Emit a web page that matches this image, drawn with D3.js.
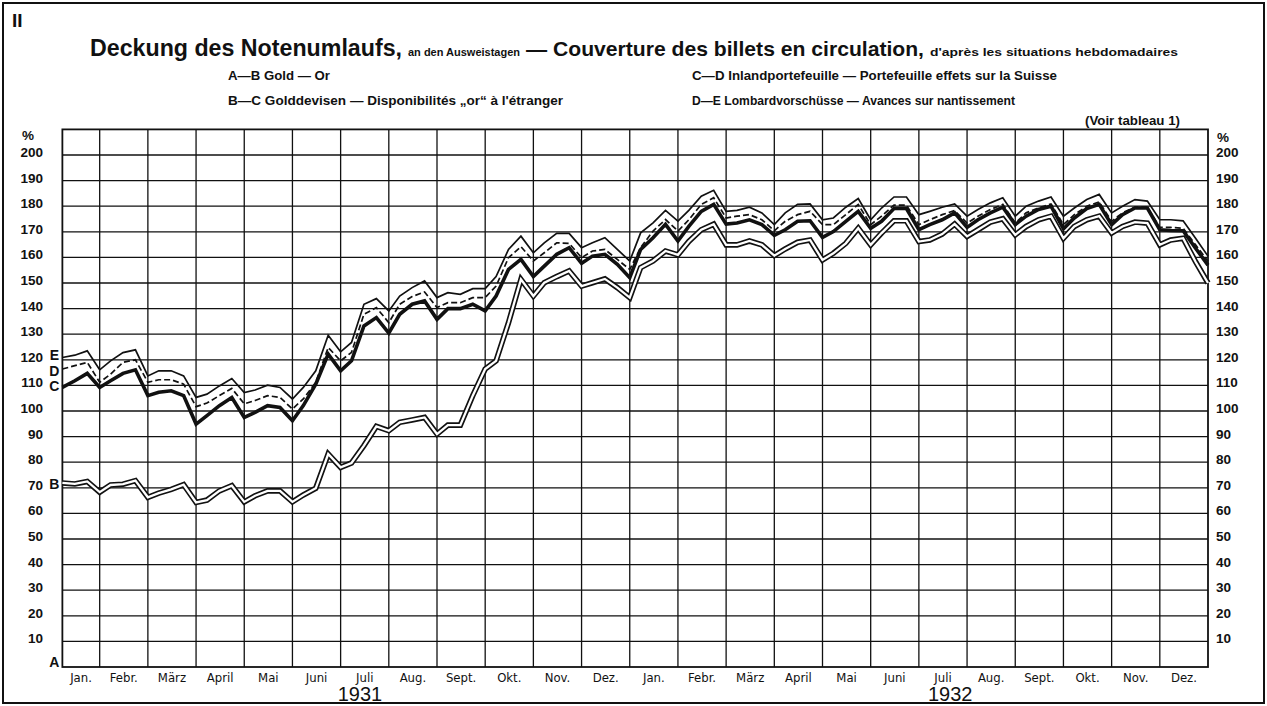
<!DOCTYPE html>
<html>
<head>
<meta charset="utf-8">
<script src="https://cdn.jsdelivr.net/npm/d3@7"></script>
<style>
  body { margin: 0; background: #fff; }
  text { fill: #111; }
</style>
</head>
<body>
<svg id="chart"></svg>
<script>
// Deckung des Notenumlaufs 1931-1932, Ausweistage: 7., 15., 23. und Monatsende

const months = ["Jan.", "Febr.", "März", "April", "Mai", "Juni", "Juli", "Aug.", "Sept.", "Okt.", "Nov.", "Dez."];
const years = ["1931", "1932"];
const statementDays = [7, 15, 23, 31];
const yTicks = d3.range(10, 201, 10);

// A-B Gold (double line), in % of notes in circulation
const lineB = [
  71.9, 71.5, 72.5, 68.3,  71.1, 71.4, 72.8, 66.3,  67.9, 69.4, 71.2, 64.3,
  65.2, 68.8, 70.8, 64.5,  66.9, 68.8, 68.8, 64.5,  67.2, 69.8, 83.2, 78.0,
  79.7, 86.5, 94.0, 92.3,  95.6, 96.5, 97.5, 91.0,  94.5, 94.5, 106.0, 116.4,
  119.6, 134.5, 151.4, 144.9,  150.1, 152.5, 154.7, 148.8,  150.1, 151.6, 148.2, 144.3,
  156.0, 158.6, 162.5, 161.0,  166.2, 170.8, 173.0, 164.9,  164.9, 166.4, 164.9, 160.7,
  163.3, 165.9, 166.8, 159.0,  161.6, 165.5, 171.4, 164.9,  169.5, 174.3, 174.3, 166.2,
  166.8, 169.1, 173.0, 168.2,  170.8, 173.8, 175.1, 168.8,  172.1, 174.7, 176.1, 167.5,
  172.1, 174.7, 176.1, 169.5,  172.1, 173.8, 173.4, 164.9,  166.8, 167.5, 158.3, 150.0
];

// A-C Gold + Golddevisen (thick line)
const lineC = [
  109.2, 111.8, 114.7, 109.2,  111.8, 114.7, 116.1, 106.0,  107.3, 107.9, 106.0, 94.9,
  98.2, 102.1, 105.3, 97.5,  99.5, 102.1, 101.4, 96.2,  102.1, 110.5, 122.2, 115.7,
  119.6, 133.2, 136.5, 130.4,  137.8, 141.7, 143.0, 135.8,  140.0, 140.0, 141.7, 139.1,
  144.9, 155.3, 159.2, 152.5,  156.6, 161.2, 163.8, 157.7,  160.5, 161.2, 157.3, 152.1,
  163.1, 167.7, 172.9, 166.4,  172.1, 178.0, 180.7, 173.0,  173.4, 174.7, 172.8, 168.6,
  170.8, 174.1, 174.3, 167.8,  170.1, 174.1, 178.0, 171.4,  174.1, 179.1, 179.1, 170.8,
  172.8, 174.7, 177.4, 171.7,  174.7, 177.4, 179.6, 172.8,  176.1, 178.7, 180.0, 171.2,
  175.4, 179.1, 180.7, 172.8,  176.7, 179.3, 179.3, 170.8,  170.5, 170.4, 163.6, 157.0
];

// A-D + Inlandportefeuille (dashed line)
const lineD = [
  116.4, 117.7, 119.0, 111.2,  114.4, 119.0, 120.0, 111.2,  112.2, 112.2, 110.5, 101.7,
  103.1, 106.0, 108.8, 102.8,  104.1, 106.0, 105.3, 100.8,  104.7, 111.2, 124.8, 119.6,
  122.9, 137.8, 140.4, 134.5,  141.7, 144.7, 146.5, 140.4,  142.3, 142.3, 144.3, 144.3,
  148.8, 159.9, 164.2, 158.6,  161.8, 165.7, 165.5, 159.9,  162.5, 163.1, 159.2, 155.3,
  163.8, 170.3, 174.8, 170.3,  174.7, 180.7, 183.3, 175.4,  176.1, 176.7, 174.7, 170.4,
  174.1, 176.7, 178.0, 172.8,  172.8, 176.7, 180.7, 172.8,  176.1, 180.4, 180.4, 172.8,
  174.7, 176.7, 178.3, 173.4,  176.1, 178.7, 180.7, 173.4,  177.4, 179.3, 180.9, 172.8,
  176.7, 180.0, 181.7, 174.1,  177.4, 179.6, 179.6, 171.7,  171.7, 171.4, 164.9, 158.5
];

// A-E + Lombardvorschüsse (thin line)
const lineE = [
  120.9, 121.8, 123.5, 116.1,  119.6, 122.8, 123.9, 113.7,  115.7, 115.7, 113.7, 105.3,
  106.6, 109.8, 112.7, 107.2,  108.2, 110.1, 109.2, 104.7,  109.2, 115.7, 129.6, 123.1,
  126.8, 141.7, 143.9, 139.1,  144.9, 148.2, 150.8, 144.3,  146.2, 145.6, 147.8, 147.8,
  152.5, 163.1, 168.3, 161.8,  165.7, 169.4, 169.4, 163.8,  165.7, 167.7, 163.1, 158.6,
  169.6, 173.5, 178.4, 174.2,  178.4, 183.9, 186.2, 178.0,  178.4, 179.6, 177.4, 172.8,
  177.4, 180.7, 180.9, 174.7,  175.4, 179.6, 183.0, 174.7,  179.3, 183.6, 183.6, 176.7,
  178.0, 179.6, 180.9, 176.1,  178.7, 181.3, 183.3, 176.1,  180.0, 182.0, 183.6, 176.1,
  179.3, 182.6, 184.6, 177.4,  180.0, 182.6, 182.0, 174.7,  174.7, 174.3, 167.5, 160.5
];

const W = 1267, H = 706;
const svg = d3.select("#chart").attr("width", W).attr("height", H);

// month units: 0 = 1 Jan 1931, 24 = 31 Dec 1932
const x = d3.scaleLinear().domain([0, 24]).range([51.5, 1208]);
const y = d3.scaleLinear().domain([0, 210]).range([667, 129.4]);

// position of every statement in month units
const pos = d3.range(96).map(i => Math.floor(i / 4) + statementDays[i % 4] / 31);
const left = x(pos[0]), right = x(24);

// outer border
svg.append("rect")
  .attr("x", 3).attr("y", 3).attr("width", W - 6).attr("height", H - 6)
  .attr("fill", "none").attr("stroke", "#111").attr("stroke-width", 2);

svg.append("text")
  .attr("x", 12).attr("y", 27)
  .style("font", "bold 19px 'Liberation Sans Narrow', 'Liberation Sans', sans-serif")
  .text("II");

// title: one text, pieces of different sizes as tspans
const title = [
  {t: "Deckung des Notenumlaufs,", x: 90, w: 312, s: 23},
  {t: "an den Ausweistagen", x: 408, w: 112, s: 11},
  {t: "— Couverture des billets en circulation,", x: 526, w: 398, s: 21},
  {t: "d'après les situations hebdomadaires", x: 930, w: 248, s: 11}
];
svg.append("text")
  .attr("y", 56)
  .style("font-family", "'Liberation Sans', sans-serif")
  .style("font-weight", "bold")
  .selectAll("tspan")
  .data(title)
  .join("tspan")
  .attr("x", d => d.x)
  .attr("textLength", d => d.w).attr("lengthAdjust", "spacingAndGlyphs")
  .style("font-size", d => d.s + "px")
  .text(d => d.t);

// legend
const legend = [
  {t: "A—B Gold — Or", x: 228, y: 80, w: 102},
  {t: "B—C Golddevisen — Disponibilités „or“ à l'étranger", x: 228, y: 105, w: 335},
  {t: "C—D Inlandportefeuille — Portefeuille effets sur la Suisse", x: 692, y: 80, w: 365},
  {t: "D—E Lombardvorschüsse — Avances sur nantissement", x: 692, y: 105, w: 323},
  {t: "(Voir tableau 1)", x: 1085, y: 125, w: 95}
];
svg.append("g").selectAll("text")
  .data(legend)
  .join("text")
  .attr("x", d => d.x).attr("y", d => d.y)
  .attr("textLength", d => d.w).attr("lengthAdjust", "spacingAndGlyphs")
  .style("font", "bold 12px 'Liberation Sans', sans-serif")
  .text(d => d.t);

// grid
const grid = svg.append("g").attr("stroke", "#111").attr("stroke-width", 1.3);
grid.selectAll("line.h")
  .data(yTicks)
  .join("line")
  .attr("class", "h")
  .attr("x1", left).attr("x2", right)
  .attr("y1", d => y(d)).attr("y2", d => y(d));
grid.selectAll("line.v")
  .data(d3.range(1, 24))
  .join("line")
  .attr("class", "v")
  .attr("x1", d => x(d)).attr("x2", d => x(d))
  .attr("y1", y(210)).attr("y2", y(0));
svg.append("rect")
  .attr("x", left).attr("y", y(210))
  .attr("width", right - left).attr("height", y(0) - y(210))
  .attr("fill", "none").attr("stroke", "#111").attr("stroke-width", 1.8);

// y tick labels both sides
const tickFont = "bold 13.5px 'Liberation Sans', sans-serif";
svg.append("g").selectAll("text")
  .data(yTicks)
  .join("text")
  .attr("x", 43).attr("y", d => y(d) + 2)
  .attr("text-anchor", "end")
  .style("font", tickFont)
  .text(d => d);
svg.append("g").selectAll("text")
  .data(yTicks)
  .join("text")
  .attr("x", 1216).attr("y", d => y(d) + 2)
  .style("font", tickFont)
  .text(d => d);
svg.append("text").attr("x", 22).attr("y", 140).style("font", tickFont).text("%");
svg.append("text").attr("x", 1217).attr("y", 142).style("font", tickFont).text("%");

// month labels
const monthData = d3.range(24).map(i => ({name: months[i % 12], i}));
svg.append("g").selectAll("text")
  .data(monthData)
  .join("text")
  .attr("x", d => (x(Math.max(d.i, pos[0])) + x(d.i + 1)) / 2)
  .attr("y", 682)
  .attr("text-anchor", "middle")
  .style("font", "13px 'Liberation Sans Narrow', 'DejaVu Sans Condensed', sans-serif")
  .text(d => d.name);

svg.append("g").selectAll("text")
  .data(years)
  .join("text")
  .attr("x", (d, i) => x(i === 0 ? 6.4 : 18.65))
  .attr("y", 701)
  .attr("text-anchor", "middle")
  .style("font", "20px 'Liberation Sans', sans-serif")
  .text(d => d);

// series
const line = d3.line()
  .x((d, i) => x(pos[i]))
  .y(d => y(d));

const plot = svg.append("g").attr("fill", "none").attr("stroke-linejoin", "miter");

plot.append("path").attr("d", line(lineB)).attr("stroke", "#111").attr("stroke-width", 5.6);
plot.append("path").attr("d", line(lineB)).attr("stroke", "#fff").attr("stroke-width", 2.3);
plot.append("path").attr("d", line(lineE)).attr("stroke", "#111").attr("stroke-width", 1.7);
plot.append("path").attr("d", line(lineD)).attr("stroke", "#111").attr("stroke-width", 1.7)
  .attr("stroke-dasharray", "6,3");
plot.append("path").attr("d", line(lineC)).attr("stroke", "#111").attr("stroke-width", 3.6);

// letters at the start of each boundary, spread a little so they do not touch
const letters = [
  {t: "E", v: lineE[0], dy: 3}, {t: "D", v: lineD[0], dy: 7}, {t: "C", v: lineC[0], dy: 4},
  {t: "B", v: lineB[0], dy: 6}, {t: "A", v: 0, dy: 0}
];
svg.append("g").selectAll("text")
  .data(letters)
  .join("text")
  .attr("x", left - 8)
  .attr("y", d => y(d.v) + d.dy)
  .attr("text-anchor", "middle")
  .style("font", "bold 14px 'Liberation Sans Narrow', 'Liberation Sans', sans-serif")
  .text(d => d.t);
</script>
</body>
</html>
